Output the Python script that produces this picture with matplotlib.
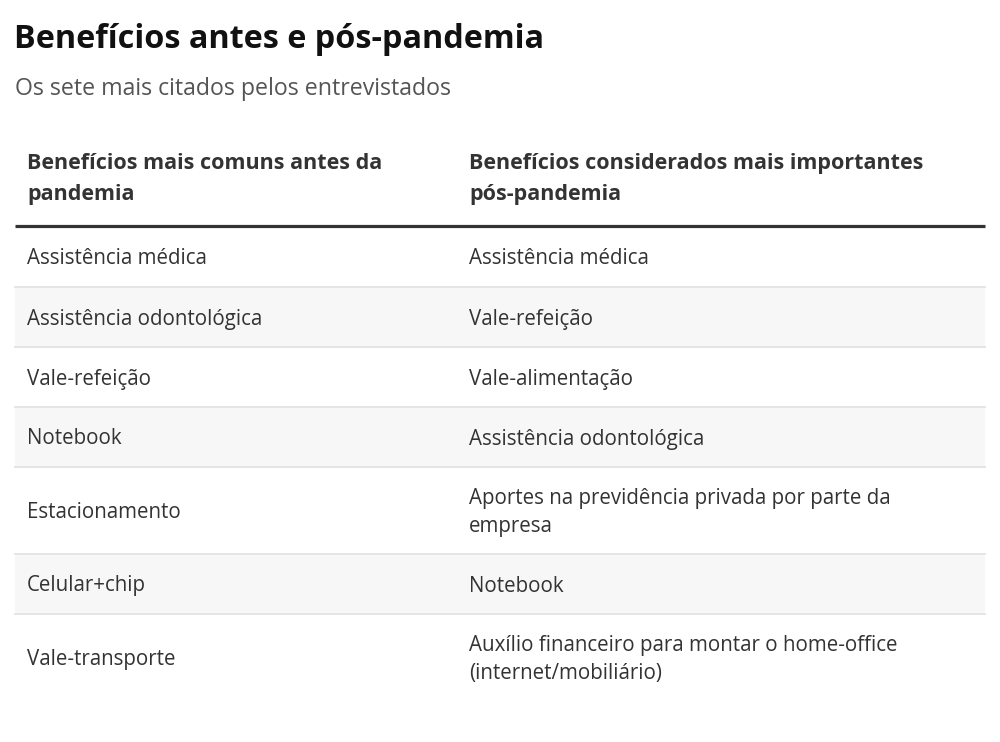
import matplotlib
matplotlib.use("Agg")
import matplotlib.pyplot as plt

plt.rcParams['font.family'] = ['Open Sans', 'DejaVu Sans']

title = "Benefícios antes e pós-pandemia"
subtitle = "Os sete mais citados pelos entrevistados"

headers = ["Benefícios mais comuns antes da\npandemia",
           "Benefícios considerados mais importantes\npós-pandemia"]

antes = ["Assistência médica", "Assistência odontológica", "Vale-refeição",
         "Notebook", "Estacionamento", "Celular+chip", "Vale-transporte"]

pos = ["Assistência médica", "Vale-refeição", "Vale-alimentação",
       "Assistência odontológica",
       "Aportes na previdência privada por parte da\nempresa",
       "Notebook",
       "Auxílio financeiro para montar o home-office\n(internet/mobiliário)"]

W, H = 1000, 742
fig = plt.figure(figsize=(W / 100, H / 100), dpi=100)
ax = fig.add_axes([0, 0, 1, 1])
ax.set_xlim(0, W)
ax.set_ylim(H, 0)
ax.axis('off')

left, right = 15, 985
col_x = [27, 469]

# title / subtitle
ax.text(14, 39, title, fontsize=23.3, fontweight='bold', color='#111111',
        va='center', ha='left')
ax.text(15, 89, subtitle, fontsize=16.7, color='#555555', va='center',
        ha='left')

# header
for x, h in zip(col_x, headers):
    ax.text(x, 179, h, fontsize=15.5, fontweight='bold', color='#333333',
            va='center', ha='left', linespacing=1.65)

ax.plot([left, right], [226, 226], color='#333333', lw=2.3,
        solid_capstyle='butt')

# rows
y = 227
for i, (a, p) in enumerate(zip(antes, pos)):
    nlines = max(a.count('\n'), p.count('\n')) + 1
    rh = 33 + 27 * nlines
    if i % 2 == 1:
        ax.add_patch(plt.Rectangle((left, y), right - left, rh,
                                   facecolor='#f7f7f7', edgecolor='none'))
    mid = y + rh / 2 + 2
    for x, t in zip(col_x, (a, p)):
        ax.text(x, mid, t, fontsize=14.8, color='#333333', va='center',
                ha='left', linespacing=1.45)
    y += rh
    if i < len(antes) - 1:
        ax.plot([left, right], [y, y], color='#e3e3e3', lw=1.3)

fig.savefig('out.png', dpi=100, facecolor='white')
